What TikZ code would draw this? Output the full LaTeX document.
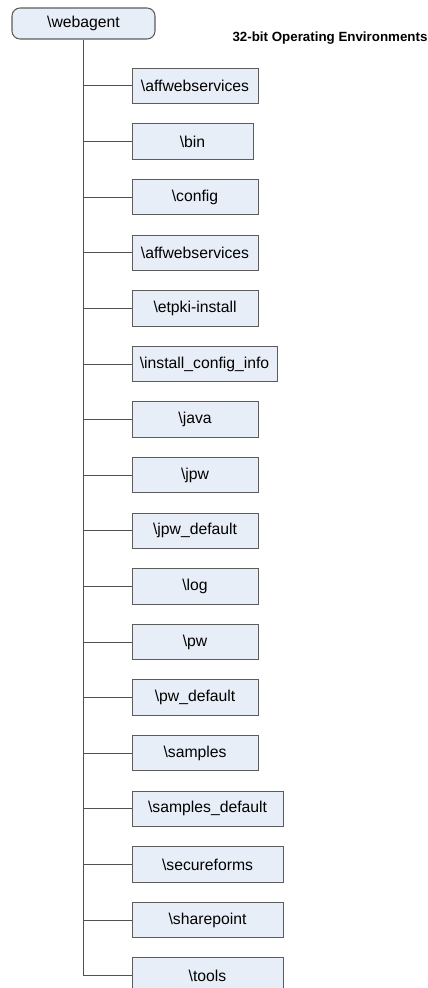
\documentclass[tikz,border=0pt]{standalone}
\usepackage{fontspec}
\setmainfont{Liberation Sans}
\usepackage{tikz}
\usetikzlibrary{positioning}
\definecolor{dirfill}{HTML}{E8EEF8}
\definecolor{dirline}{HTML}{5C5C5C}
\definecolor{treeline}{HTML}{505050}
\tikzset{
    dirbox/.style={draw=dirline, fill=dirfill, line width=0.8pt, anchor=west,
        minimum height=26.5pt, minimum width=#1, inner sep=2pt,
        font=\fontsize{11.8}{13.5}\selectfont},
    dirbox/.default=94.5pt,
    rootbox/.style={draw=dirline, fill=dirfill, line width=0.8pt, rounded corners=6pt,
        minimum height=23.25pt, minimum width=107.25pt, inner sep=2pt,
        font=\fontsize{11.8}{13.5}\selectfont},
    branch/.style={draw=treeline, line width=0.75pt}
}

\begin{document}
\begin{tikzpicture}[x=0.75pt,y=0.75pt,yscale=-1,xscale=1]
\useasboundingbox (0,0) rectangle (428,988);
%Root
\draw (83.5,23.5) node [rootbox] (webagent) {\textbackslash webagent};
\draw (330,38.5) node [font=\bfseries\fontsize{10}{12}\selectfont] (title) {32-bit Operating Environments};
%Folders
\draw (131.5,86) node [dirbox] (affweb) {\textbackslash affwebservices};
\draw (131.5,141.6) node [dirbox=90.75pt] (bin) {\textbackslash bin};
\draw (131.5,197.2) node [dirbox] (config) {\textbackslash config};
\draw (131.5,252.8) node [dirbox] (affwebb) {\textbackslash affwebservices};
\draw (131.5,308.4) node [dirbox] (etpki) {\textbackslash etpki-install};
\draw (131.5,364) node [dirbox=108.75pt] (install) {\textbackslash install\_config\_info};
\draw (131.5,419.6) node [dirbox] (java) {\textbackslash java};
\draw (131.5,475.2) node [dirbox] (jpw) {\textbackslash jpw};
\draw (131.5,530.8) node [dirbox] (jpwdef) {\textbackslash jpw\_default};
\draw (131.5,586.4) node [dirbox] (log) {\textbackslash log};
\draw (131.5,642) node [dirbox] (pw) {\textbackslash pw};
\draw (131.5,697.6) node [dirbox] (pwdef) {\textbackslash pw\_default};
\draw (131.5,753.2) node [dirbox] (samples) {\textbackslash samples};
\draw (131.5,808.8) node [dirbox=113.25pt] (samplesdef) {\textbackslash samples\_default};
\draw (131.5,864.4) node [dirbox=113.25pt] (secure) {\textbackslash secureforms};
\draw (131.5,920) node [dirbox=113.25pt] (share) {\textbackslash sharepoint};
\draw (131.5,975.6) node [dirbox=113.25pt] (tools) {\textbackslash tools};
%Tree lines
\draw [branch] (webagent.south) |- (tools.west);
\draw [branch] (webagent.south |- affweb.west) -- (affweb.west);
\draw [branch] (webagent.south |- bin.west) -- (bin.west);
\draw [branch] (webagent.south |- config.west) -- (config.west);
\draw [branch] (webagent.south |- affwebb.west) -- (affwebb.west);
\draw [branch] (webagent.south |- etpki.west) -- (etpki.west);
\draw [branch] (webagent.south |- install.west) -- (install.west);
\draw [branch] (webagent.south |- java.west) -- (java.west);
\draw [branch] (webagent.south |- jpw.west) -- (jpw.west);
\draw [branch] (webagent.south |- jpwdef.west) -- (jpwdef.west);
\draw [branch] (webagent.south |- log.west) -- (log.west);
\draw [branch] (webagent.south |- pw.west) -- (pw.west);
\draw [branch] (webagent.south |- pwdef.west) -- (pwdef.west);
\draw [branch] (webagent.south |- samples.west) -- (samples.west);
\draw [branch] (webagent.south |- samplesdef.west) -- (samplesdef.west);
\draw [branch] (webagent.south |- secure.west) -- (secure.west);
\draw [branch] (webagent.south |- share.west) -- (share.west);
\end{tikzpicture}
\end{document}
